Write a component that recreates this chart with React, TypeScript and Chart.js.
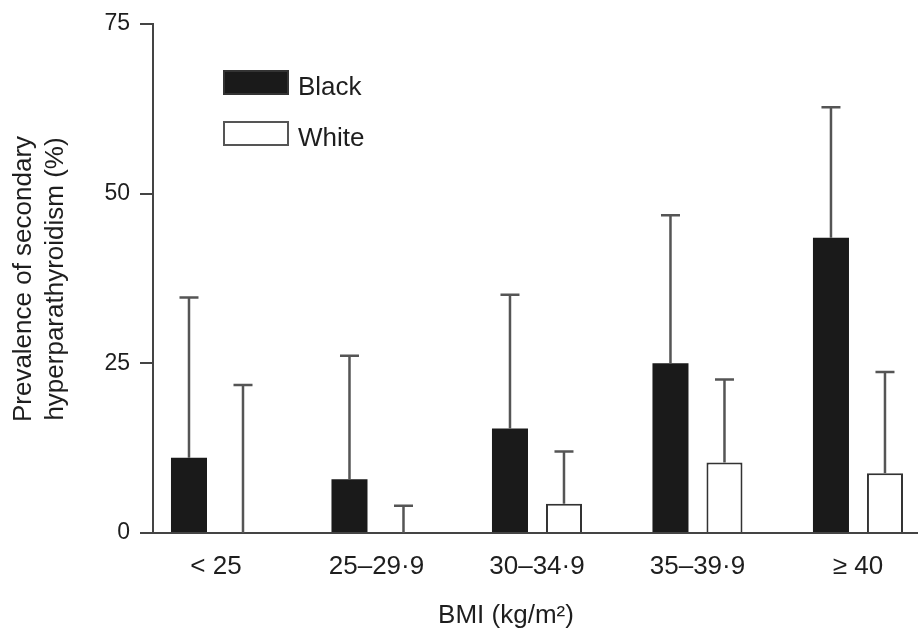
import React, { useEffect, useRef } from "react";
import { Chart, registerables } from "chart.js";

Chart.register(...registerables);

const categories = ["< 25", "25–29·9", "30–34·9", "35–39·9", "≥ 40"];
const seriesNames = ["Black", "White"];
const blackValues = [11.1, 7.9, 15.4, 25.0, 43.5];
const blackUpper = [34.7, 26.1, 35.1, 46.8, 62.7];
const whiteValues = [0, 0, 4.3, 10.4, 8.8];
const whiteUpper = [21.8, 4.0, 12.0, 22.6, 23.7];
const yTicks = [0, 25, 50, 75];
const yTitleLines = ["Prevalence of secondary", "hyperparathyroidism (%)"];
const xTitle = "BMI (kg/m²)";

const FONT = "'Liberation Sans', Arial, Helvetica, sans-serif";
const TEXT = "#1e1e1e";
const AXIS = "#444";

export default function App() {
  const ref = useRef<HTMLCanvasElement | null>(null);

  useEffect(() => {
    if (!ref.current) return;
    const uppers = [blackUpper, whiteUpper];

    const errorBars = {
      id: "errorBars",
      afterDatasetsDraw(chart: any) {
        const ctx = chart.ctx;
        const ys = chart.scales.y;
        chart.data.datasets.forEach((ds: any, di: number) => {
          const meta = chart.getDatasetMeta(di);
          meta.data.forEach((bar: any, i: number) => {
            const x = bar.x;
            const y0 = ys.getPixelForValue(ds.data[i].y);
            const y1 = ys.getPixelForValue(uppers[di][i]);
            ctx.save();
            ctx.strokeStyle = "#555";
            ctx.lineWidth = 2.5;
            ctx.beginPath();
            ctx.moveTo(x, y0);
            ctx.lineTo(x, y1);
            ctx.moveTo(x - 9.5, y1);
            ctx.lineTo(x + 9.5, y1);
            ctx.stroke();
            ctx.restore();
          });
        });
      },
    };

    const decorations = {
      id: "decorations",
      afterDraw(chart: any) {
        const ctx = chart.ctx;
        ctx.save();
        ctx.fillStyle = TEXT;
        ctx.font = `26px ${FONT}`;
        // y title
        ctx.save();
        ctx.translate(31, 279);
        ctx.rotate(-Math.PI / 2);
        ctx.textAlign = "center";
        ctx.textBaseline = "alphabetic";
        ctx.fillText(yTitleLines[0], 0, 0);
        ctx.restore();
        ctx.save();
        ctx.translate(63, 279);
        ctx.rotate(-Math.PI / 2);
        ctx.textAlign = "center";
        ctx.textBaseline = "alphabetic";
        ctx.fillText(yTitleLines[1], 0, 0);
        ctx.restore();
        // x title
        ctx.textAlign = "center";
        ctx.textBaseline = "alphabetic";
        ctx.fillText(xTitle, 506, 623);
        // legend
        chart.data.datasets.forEach((ds: any, i: number) => {
          const top = 71 + i * 51;
          ctx.fillStyle = ds.backgroundColor;
          ctx.fillRect(224, top, 64, 23);
          ctx.strokeStyle = i === 0 ? "#333" : "#555";
          ctx.lineWidth = 2;
          ctx.strokeRect(224, top, 64, 23);
          ctx.fillStyle = TEXT;
          ctx.textAlign = "left";
          ctx.fillText(ds.label, 298, top + 24);
        });
        ctx.restore();
      },
    };

    const chart = new Chart(ref.current, {
      type: "bar",
      data: {
        datasets: [
          {
            label: seriesNames[0],
            data: blackValues.map((v, i) => ({ x: i, y: v })),
            backgroundColor: "#1a1a1a",
            borderColor: "#1a1a1a",
            borderWidth: 0,
            categoryPercentage: 0.673,
            barPercentage: 0.667,
          },
          {
            label: seriesNames[1],
            data: whiteValues.map((v, i) => ({ x: i, y: v })),
            backgroundColor: "#ffffff",
            borderColor: "#333",
            borderWidth: 2,
            categoryPercentage: 0.673,
            barPercentage: 0.667,
          },
        ] as any,
      },
      options: {
        animation: false,
        responsive: true,
        maintainAspectRatio: false,
        layout: { padding: { top: 20, left: 0, right: 0, bottom: 0 } },
        plugins: { legend: { display: false }, tooltip: { enabled: false } },
        scales: {
          x: {
            type: "linear",
            min: -0.3925,
            max: 4.374,
            offset: false,
            ticks: {
              stepSize: 1,
              includeBounds: false,
              autoSkip: false,
              maxRotation: 0,
              padding: 18,
              color: TEXT,
              font: { family: FONT, size: 26 },
              callback: (v: any) => (categories[v as number] ?? ""),
            },
            grid: { display: false, drawTicks: false },
            border: { display: true, color: AXIS, width: 2 },
            afterFit: (s: any) => {
              s.height = 104;
            },
          },
          y: {
            min: yTicks[0],
            max: yTicks[yTicks.length - 1],
            ticks: {
              stepSize: yTicks[1] - yTicks[0],
              padding: 10,
              color: TEXT,
              font: { family: FONT, size: 23 },
            },
            grid: {
              drawOnChartArea: false,
              drawTicks: true,
              tickLength: 13,
              color: AXIS,
              lineWidth: 2,
            },
            border: { display: true, color: AXIS, width: 2 },
            afterFit: (s: any) => {
              s.width = 153;
            },
          },
        },
      } as any,
      plugins: [errorBars, decorations],
    });
    return () => chart.destroy();
  }, []);

  return (
    <div
      style={{
        position: "fixed",
        left: 0,
        top: 0,
        width: 918,
        height: 637,
        background: "#fff",
      }}
    >
      <canvas ref={ref} />
    </div>
  );
}
